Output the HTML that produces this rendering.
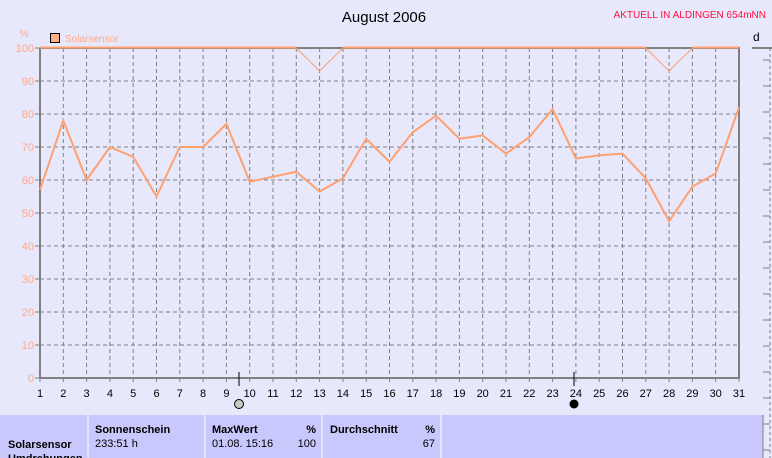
<!DOCTYPE html>
<html><head><meta charset="utf-8"><style>
body{margin:0;background:#e8e8fc;width:772px;height:458px;overflow:hidden;font-family:"Liberation Sans",sans-serif;}
svg{position:absolute;left:0;top:0}
</style></head><body>
<svg id="s" width="772" height="458" xmlns="http://www.w3.org/2000/svg" font-family="Liberation Sans, sans-serif">
<rect width="772" height="458" fill="#e8e8fc"/>
<text x="384" y="22" font-size="15" text-anchor="middle" fill="#000">August 2006</text>
<text x="766" y="18" font-size="10" text-anchor="end" fill="#ff1040">AKTUELL IN ALDINGEN 654mNN</text>
<text x="24" y="37" font-size="10" text-anchor="middle" fill="#ffa888">%</text>
<rect x="50.5" y="33.5" width="9" height="9" fill="#ffb088" stroke="#000"/>
<text x="65" y="42" font-size="10" fill="#ffa888">Solarsensor</text>
<text x="753" y="41" font-size="12" fill="#000">d</text>
<g id="g"></g>
</svg>
<script>
const g=document.getElementById('g');let h='';
const X=d=>40+(d-1)*23.3, Y=v=>378-3.3*v;
for(let v=10;v<100;v+=10)h+=`<line x1="40" x2="739" y1="${Y(v)}" y2="${Y(v)}" stroke="#808080" stroke-dasharray="4,3"/>`;
for(let d=2;d<31;d++)h+=`<line x1="${X(d)}" x2="${X(d)}" y1="48" y2="378" stroke="#808080" stroke-dasharray="4,3"/>`;
for(let v=0;v<=100;v+=10)h+=`<text x="34" y="${Y(v)+4}" font-size="11" text-anchor="end" fill="#ffa888">${v}</text><line x1="35" x2="40" y1="${Y(v)}" y2="${Y(v)}" stroke="#808080"/>`;
for(let d=1;d<=31;d++)h+=`<text x="${X(d)}" y="397" font-size="11" text-anchor="middle">${d}</text><line x1="${X(d)}" x2="${X(d)}" y1="378" y2="382" stroke="#808080"/>`;
h+=`<path d="M40 48V378H739V48H40" fill="none" stroke="#808080" stroke-width="2"/>`;
h+=`<polyline fill="none" stroke="#ffa070" stroke-width="1" points="${X(1)},48 ${X(12)},48 ${X(13)},71 ${X(14)},48 ${X(27)},48 ${X(28)},71 ${X(29)},48 ${X(31)},48"/>`;
h+=`<line x1="40" x2="${X(12)}" y1="47.5" y2="47.5" stroke="#ffa070" stroke-width="2"/><line x1="${X(14)}" x2="${X(27)}" y1="47.5" y2="47.5" stroke="#ffa070" stroke-width="2"/><line x1="${X(29)}" x2="739" y1="47.5" y2="47.5" stroke="#ffa070" stroke-width="2"/>`;
const d=[57,78,60,70,67,55,70,70,77,59.5,61,62.5,56.5,60.5,72.5,65.5,74.5,79.5,72.5,73.5,68,73,81.5,66.5,67.5,68,60.5,47.5,58,62,82];
h+=`<polyline fill="none" stroke="#ffa070" stroke-width="2" points="${d.map((v,i)=>X(i+1)+','+Y(v)).join(' ')}"/>`;
h+=`<line x1="239" x2="239" y1="372" y2="386" stroke="#000"/><line x1="574" x2="574" y1="372" y2="386" stroke="#000"/>`;
h+=`<circle cx="239" cy="404" r="4.5" fill="#c8c8c8" stroke="#000"/><circle cx="574" cy="404" r="4.5" fill="#000"/>`;
// right axis
h+=`<line x1="770" x2="770" y1="48" y2="458" stroke="#808080" stroke-dasharray="3,3"/><line x1="752" x2="772" y1="48" y2="48" stroke="#808080" stroke-width="2"/>`;
for(let y=60;y<458;y+=26)h+=`<line x1="763" x2="770" y1="${y}" y2="${y}" stroke="#808080"/>`;
// table
h+=`<rect x="0" y="415" width="763" height="43" fill="#c8c8fc"/>`;
[88,205,322,441].forEach(x=>h+=`<line x1="${x}" x2="${x}" y1="415" y2="458" stroke="#fff"/>`);
h+=`<line x1="763" x2="763" y1="415" y2="458" stroke="#808080"/>`;
h+=`<g font-size="11" font-weight="bold"><text x="8" y="448">Solarsensor</text><text x="95" y="433">Sonnenschein</text><text x="212" y="433">MaxWert</text><text x="316" y="433" text-anchor="end">%</text><text x="330" y="433">Durchschnitt</text><text x="435" y="433" text-anchor="end">%</text><text x="8" y="462">Umdrehungen</text></g>`;
h+=`<g font-size="11"><text x="95" y="447">233:51 h</text><text x="212" y="447">01.08.  15:16</text><text x="316" y="447" text-anchor="end">100</text><text x="435" y="447" text-anchor="end">67</text></g>`;
g.innerHTML=h;
</script>
</body></html>
